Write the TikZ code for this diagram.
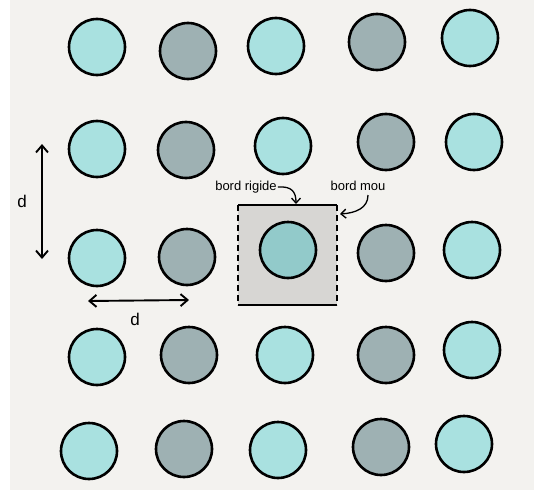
\documentclass[tikz,border=0pt]{standalone}
\usepackage{fontspec}
\setmainfont{Liberation Sans}
\usetikzlibrary{arrows.meta}
\definecolor{bgpaper}{HTML}{F3F2EF}
\definecolor{tealc}{HTML}{A9E1E0}
\definecolor{grayc}{HTML}{9EB1B3}
\definecolor{tealdark}{HTML}{92CACA}
\definecolor{squarefill}{HTML}{D7D6D3}
\tikzset{
  atom/.style={circle, draw=black, line width=2.6pt, minimum size=56pt, inner sep=0pt},
  tatom/.style={atom, fill=tealc},
  gatom/.style={atom, fill=grayc},
  dim/.style={line width=1.9pt, {Straight Barb[length=7pt,width=12pt]}-{Straight Barb[length=7pt,width=12pt]}},
  pointer/.style={line width=1.3pt, -{Straight Barb[length=5pt,width=9pt]}},
  hand/.style={font=\fontsize{13}{14}\selectfont, inner sep=1pt}
}
\begin{document}
\begin{tikzpicture}[x=1pt,y=-1pt]
\useasboundingbox (0,0) rectangle (534,492);
\fill[white] (0,0) rectangle (534,492);
\fill[bgpaper] (10,0) rectangle (534,490);
% row 1
\node[tatom] (a11) at (97,47) {};
\node[gatom] (a12) at (188,51) {};
\node[tatom] (a13) at (276,46) {};
\node[gatom] (a14) at (377,42) {};
\node[tatom] (a15) at (470,38) {};
% row 2
\node[tatom] (a21) at (97,149) {};
\node[gatom] (a22) at (186,150) {};
\node[tatom] (a23) at (283,146) {};
\node[gatom] (a24) at (386,142) {};
\node[tatom] (a25) at (474,142) {};
% row 3
\node[tatom] (a31) at (97,258) {};
\node[gatom] (a32) at (187,257) {};
\fill[squarefill] (238,205) rectangle (337,305);
\draw[line width=1.6pt] (238,205) -- (337,205);
\draw[line width=1.6pt] (238,305) -- (337,305);
\draw[line width=1.6pt, dash pattern=on 6pt off 4pt] (238,205) -- (238,305);
\draw[line width=1.6pt, dash pattern=on 6pt off 4pt] (337,205) -- (337,305);
\node[atom, fill=tealdark] (a33) at (288,250) {};
\node[gatom] (a34) at (386,253) {};
\node[tatom] (a35) at (472,250) {};
% row 4
\node[tatom] (a41) at (97,357) {};
\node[gatom] (a42) at (189,355) {};
\node[tatom] (a43) at (285,355) {};
\node[gatom] (a44) at (386,355) {};
\node[tatom] (a45) at (472,350) {};
% row 5
\node[tatom] (a51) at (89,451) {};
\node[gatom] (a52) at (184,449) {};
\node[tatom] (a53) at (278,450) {};
\node[gatom] (a54) at (381,447) {};
\node[tatom] (a55) at (464,444) {};
% dimension arrows
\coordinate (v1) at (42,144);
\coordinate (v2) at (42,259);
\draw[dim] (v1) -- (v2);
\node[hand, font=\fontsize{17}{18}\selectfont] (dv) at (22,201) {d};
\coordinate (h1) at (88,301);
\coordinate (h2) at (189,300);
\draw[dim] (h1) -- (h2);
\node[hand, font=\fontsize{17}{18}\selectfont] (dh) at (135,319) {d};
% labels
\node[hand] (rig) at (246,187) {bord rigide};
\coordinate (rigt) at (296,204);
\draw[pointer] (rig.east) .. controls (292,186) and (296,192) .. (rigt);
\node[hand] (mou) at (358,186) {bord mou};
\coordinate (mout) at (340,214);
\draw[pointer] (368,195) .. controls (368,208) and (356,213) .. (mout);
\end{tikzpicture}
\end{document}
